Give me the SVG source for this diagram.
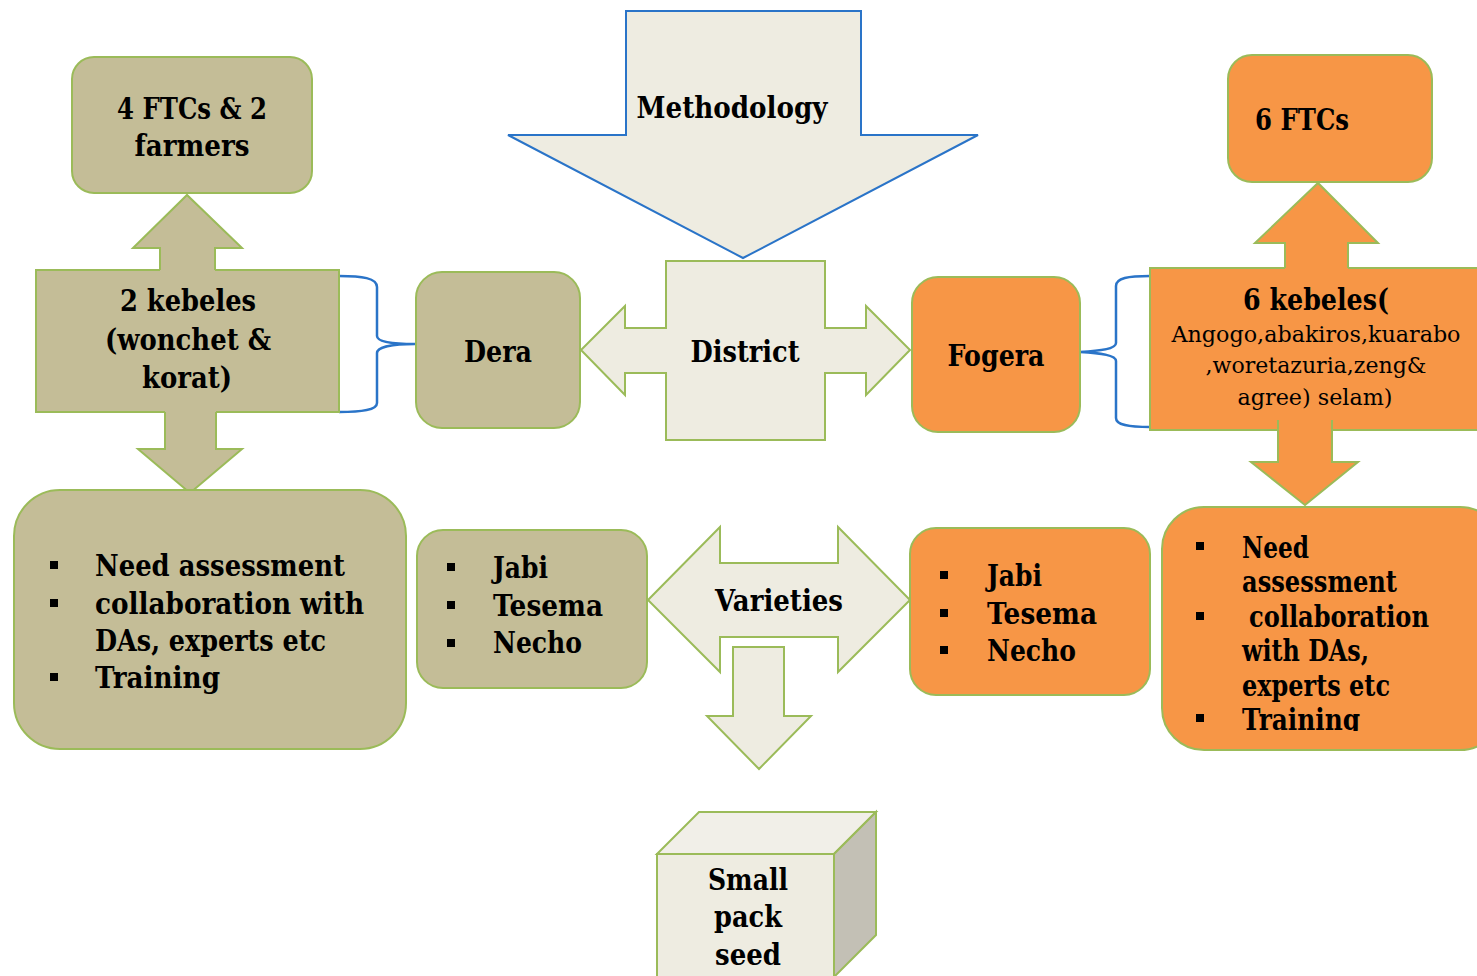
<svg xmlns="http://www.w3.org/2000/svg" width="1477" height="976" viewBox="0 0 1477 976">
<defs>
<style>
.tan{fill:#C4BD97;stroke:#9BBB59;stroke-width:2}
.org{fill:#F79646;stroke:#9BBB59;stroke-width:2}
.lt{fill:#EEECE1;stroke:#9BBB59;stroke-width:2}
.nf{stroke:none}
.ol{fill:none;stroke:#9BBB59;stroke-width:2}
.brace{fill:none;stroke:#2A74C8;stroke-width:2.5}
text{font-family:"DejaVu Serif","Liberation Serif",serif;font-weight:bold;font-size:29px;fill:#000}
.c{text-anchor:middle}
.r{font-weight:normal;font-size:23px}
.b{fill:#000}
</style>
<clipPath id="clipR"><rect x="1160" y="505" width="320" height="226"/></clipPath>
</defs>
<rect width="1477" height="976" fill="#fff"/>

<g id="connectors">
<path class="brace" d="M339,276 C362,276 377,278 377,287 L377,336 C377,342 392,344 415,344 C392,344 377,347 377,353 L377,403 C377,410 362,412 339,412"/>
<path class="brace" d="M1150,276 C1128,276 1116,278 1116,286 L1116,343 C1116,349 1100,351 1080,352 C1100,353 1116,355 1116,361 L1116,418 C1116,425 1128,427 1150,427"/>
</g>

<g id="methodology">
<polygon points="626,11 861,11 861,135 978,135 743,258 508,135 626,135" fill="#EEECE1" stroke="#2A74C8" stroke-width="2"/>
<text class="c" x="732" y="118" textLength="191" lengthAdjust="spacingAndGlyphs">Methodology</text>
</g>

<g id="ftc-left">
<rect class="tan" x="72" y="57" width="240" height="136" rx="22"/>
<text class="c" x="192" y="119" textLength="150" lengthAdjust="spacingAndGlyphs">4 FTCs &amp; 2</text>
<text class="c" x="192" y="156" textLength="115" lengthAdjust="spacingAndGlyphs">farmers</text>
</g>

<g id="kebele-left">
<rect class="tan" x="36" y="270" width="303" height="142"/>
<path class="tan nf" d="M187,195 L242,248 L215,248 L215,272 L160,272 L160,248 L133,248 Z"/>
<path class="ol" d="M160,270 L160,248 L133,248 L187,195 L242,248 L215,248 L215,270"/>
<path class="tan nf" d="M165,410 L216,410 L216,449 L242,449 L190,493 L138,449 L165,449 Z"/>
<path class="ol" d="M165,412 L165,449 L138,449 L190,493 L242,449 L216,449 L216,412"/>
<text class="c" x="188" y="311" textLength="136" lengthAdjust="spacingAndGlyphs">2 kebeles</text>
<text class="c" x="188" y="350" textLength="166" lengthAdjust="spacingAndGlyphs">(wonchet &amp;</text>
<text class="c" x="187" y="388" textLength="90" lengthAdjust="spacingAndGlyphs">korat)</text>
</g>

<g id="dera">
<rect class="tan" x="416" y="272" width="164" height="156" rx="26"/>
<text class="c" x="498" y="362" textLength="68" lengthAdjust="spacingAndGlyphs">Dera</text>
</g>

<g id="district">
<path class="lt" d="M666,261 L825,261 L825,328 L866,328 L866,306 L910,350 L866,395 L866,373 L825,373 L825,440 L666,440 L666,373 L625,373 L625,395 L581,350 L625,306 L625,328 L666,328 Z"/>
<text class="c" x="745" y="362" textLength="109" lengthAdjust="spacingAndGlyphs">District</text>
</g>

<g id="fogera">
<rect class="org" x="912" y="277" width="168" height="155" rx="26"/>
<text class="c" x="996" y="366" textLength="97" lengthAdjust="spacingAndGlyphs">Fogera</text>
</g>

<g id="ftc-right">
<rect class="org" x="1228" y="55" width="204" height="127" rx="24"/>
<text x="1255" y="130" textLength="94" lengthAdjust="spacingAndGlyphs">6 FTCs</text>
</g>

<g id="kebele-right">
<rect class="org" x="1150" y="268" width="340" height="162"/>
<path class="org nf" d="M1318,183 L1378,243 L1348,243 L1348,270 L1285,270 L1285,243 L1255,243 Z"/>
<path class="ol" d="M1285,268 L1285,243 L1255,243 L1318,183 L1378,243 L1348,243 L1348,268"/>
<path class="org nf" d="M1278,418 L1332,418 L1332,462 L1358,462 L1305,505 L1251,462 L1278,462 Z"/>
<path class="ol" d="M1278,420 L1278,462 L1251,462 L1305,505 L1358,462 L1332,462 L1332,420"/>
<text x="1243" y="310" textLength="146" lengthAdjust="spacingAndGlyphs">6 kebeles(</text>
<text class="c r" x="1316" y="342" textLength="289" lengthAdjust="spacingAndGlyphs">Angogo,abakiros,kuarabo</text>
<text class="c r" x="1316" y="373" textLength="221" lengthAdjust="spacingAndGlyphs">,woretazuria,zeng&amp;</text>
<text class="c r" x="1315" y="405" textLength="155" lengthAdjust="spacingAndGlyphs">agree) selam)</text>
</g>

<g id="activities-left">
<rect class="tan" x="14" y="490" width="392" height="259" rx="46"/>
<rect class="b" x="50" y="561" width="8" height="8"/>
<rect class="b" x="50" y="599" width="8" height="8"/>
<rect class="b" x="50" y="673" width="8" height="8"/>
<text x="95" y="576" textLength="250" lengthAdjust="spacingAndGlyphs">Need assessment</text>
<text x="95" y="614" textLength="269" lengthAdjust="spacingAndGlyphs">collaboration with</text>
<text x="95" y="651" textLength="231" lengthAdjust="spacingAndGlyphs">DAs, experts etc</text>
<text x="95" y="688" textLength="125" lengthAdjust="spacingAndGlyphs">Training</text>
</g>

<g id="varieties-left">
<rect class="tan" x="417" y="530" width="230" height="158" rx="26"/>
<rect class="b" x="447" y="563" width="8" height="8"/>
<rect class="b" x="447" y="601" width="8" height="8"/>
<rect class="b" x="447" y="639" width="8" height="8"/>
<text x="493" y="578" textLength="55" lengthAdjust="spacingAndGlyphs">Jabi</text>
<text x="493" y="616" textLength="110" lengthAdjust="spacingAndGlyphs">Tesema</text>
<text x="493" y="653" textLength="89" lengthAdjust="spacingAndGlyphs">Necho</text>
</g>

<g id="varieties">
<path class="lt" d="M648,600 L720,527 L720,563 L838,563 L838,527 L910,600 L838,672 L838,637 L720,637 L720,672 Z"/>
<text class="c" x="779" y="611" textLength="128" lengthAdjust="spacingAndGlyphs">Varieties</text>
</g>

<g id="down-arrow">
<path class="lt" d="M733,647 L784,647 L784,716 L811,716 L759,769 L707,716 L733,716 Z"/>
</g>

<g id="varieties-right">
<rect class="org" x="910" y="528" width="240" height="167" rx="26"/>
<rect class="b" x="940" y="571" width="8" height="8"/>
<rect class="b" x="940" y="609" width="8" height="8"/>
<rect class="b" x="940" y="646" width="8" height="8"/>
<text x="987" y="586" textLength="55" lengthAdjust="spacingAndGlyphs">Jabi</text>
<text x="987" y="624" textLength="110" lengthAdjust="spacingAndGlyphs">Tesema</text>
<text x="987" y="661" textLength="89" lengthAdjust="spacingAndGlyphs">Necho</text>
</g>

<g id="activities-right">
<rect class="org" x="1162" y="507" width="340" height="243" rx="42"/>
<rect class="b" x="1196" y="542" width="8" height="8"/>
<rect class="b" x="1196" y="612" width="8" height="8"/>
<rect class="b" x="1196" y="714" width="8" height="8"/>
<g clip-path="url(#clipR)">
<text x="1242" y="558" textLength="67" lengthAdjust="spacingAndGlyphs">Need</text>
<text x="1242" y="592" textLength="155" lengthAdjust="spacingAndGlyphs">assessment</text>
<text x="1249" y="627" textLength="180" lengthAdjust="spacingAndGlyphs">collaboration</text>
<text x="1242" y="661" textLength="127" lengthAdjust="spacingAndGlyphs">with DAs,</text>
<text x="1242" y="696" textLength="148" lengthAdjust="spacingAndGlyphs">experts etc</text>
<text x="1242" y="730" textLength="118" lengthAdjust="spacingAndGlyphs">Training</text>
</g>
</g>

<g id="small-pack-seed">
<polygon points="657,854 699,812 876,812 834,854" fill="#F1EFE8" stroke="#9BBB59" stroke-width="2"/>
<polygon points="834,854 876,812 876,935 834,977" fill="#C3C0B5" stroke="#9BBB59" stroke-width="2"/>
<rect class="lt" x="657" y="854" width="177" height="130"/>
<text class="c" x="748" y="890" textLength="80" lengthAdjust="spacingAndGlyphs">Small</text>
<text class="c" x="748" y="927" textLength="68" lengthAdjust="spacingAndGlyphs">pack</text>
<text class="c" x="748" y="965" textLength="66" lengthAdjust="spacingAndGlyphs">seed</text>
</g>
</svg>
